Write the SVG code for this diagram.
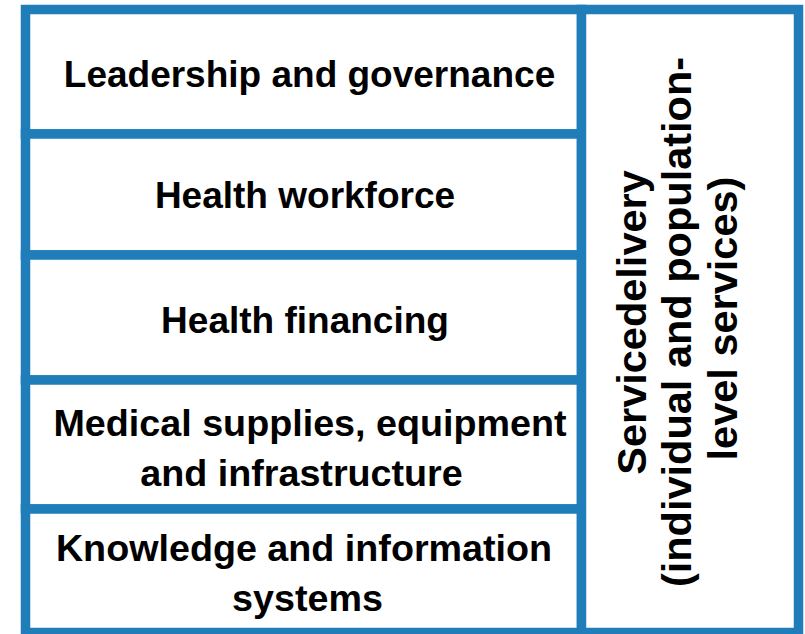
<svg xmlns="http://www.w3.org/2000/svg" width="805" height="634" viewBox="0 0 805 634">
  <style>
    .cell { fill: #ffffff; stroke: #1f7db9; stroke-width: 9.5; }
    .label { font-family: "Liberation Sans", Arial, sans-serif; font-weight: bold; fill: #000000; text-anchor: middle; }
    .row { font-size: 37px; }
    .row2 { font-size: 37.7px; }
    .side { font-size: 41.5px; }
  </style>
  <rect width="805" height="634" fill="#ffffff"/>

  <!-- building blocks, stacked in the left column -->
  <g id="leadership">
    <rect class="cell" x="25.5" y="9.5" width="556" height="124.5"/>
    <text class="label row" x="309.5" y="87">Leadership and governance</text>
  </g>
  <g id="workforce">
    <rect class="cell" x="25.5" y="134" width="556" height="121"/>
    <text class="label row" x="305" y="208">Health workforce</text>
  </g>
  <g id="financing">
    <rect class="cell" x="25.5" y="255" width="556" height="125"/>
    <text class="label row" x="305" y="333">Health financing</text>
  </g>
  <g id="supplies">
    <rect class="cell" x="25.5" y="380" width="556" height="129"/>
    <text class="label row2" x="310" y="436">Medical supplies, equipment</text>
    <text class="label row2" x="301.5" y="486">and infrastructure</text>
  </g>
  <g id="information">
    <rect class="cell" x="25.5" y="509" width="556" height="123.5"/>
    <text class="label row2" x="304" y="561">Knowledge and information</text>
    <text class="label row2" x="307.5" y="611">systems</text>
  </g>

  <!-- service delivery spans the full height on the right -->
  <g id="service-delivery">
    <rect class="cell" x="581.5" y="9.5" width="217" height="623"/>
    <g transform="translate(0,321) rotate(-90)">
      <text class="label side" x="-1.5" y="646">Servicedelivery</text>
      <text class="label side" x="-1" y="691">(individual and population-</text>
      <text class="label side" x="2.5" y="737">level services)</text>
    </g>
  </g>
</svg>
